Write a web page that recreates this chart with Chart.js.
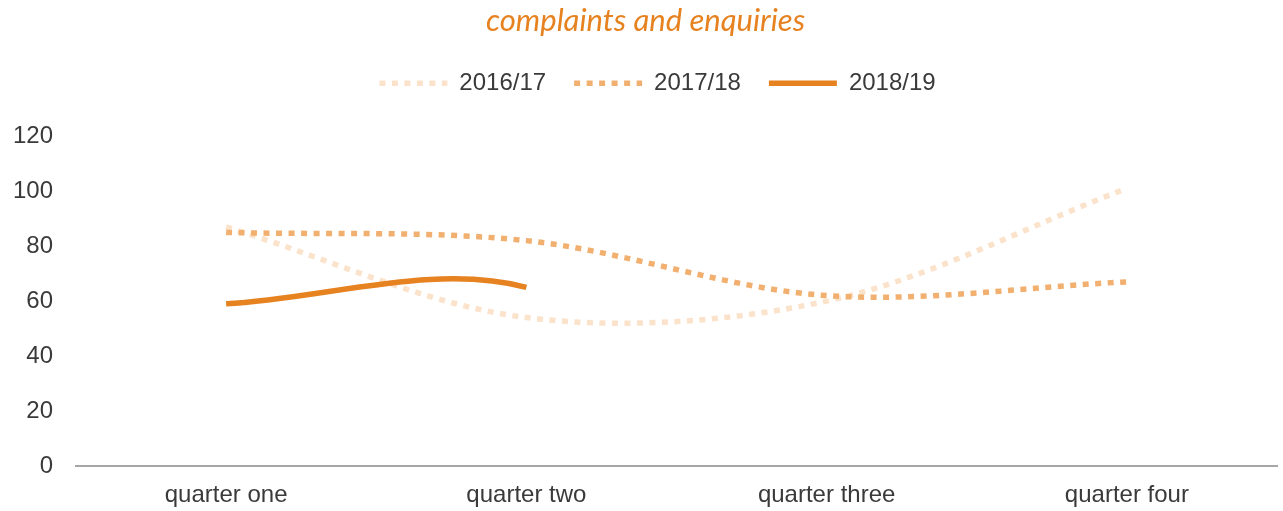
<!DOCTYPE html>
<html>
<head>
<meta charset="utf-8">
<script src="https://cdn.jsdelivr.net/npm/chart.js@4"></script>
<style>
    body { margin: 0; background: #fff; }
    #wrap { width: 1283px; height: 511px; position: relative; }
</style>
</head>
<body>
<div id="wrap"><canvas id="myChart"></canvas></div>
<script>
// data
const quarters = ['quarter one', 'quarter two', 'quarter three', 'quarter four'];
const y2016_17 = [87, 54, 60, 101];
const y2017_18 = [85, 82, 62, 67];
// quarters three and four not reported yet: blank cells, counted as 0 by the
// original smoothing (that is why the line bends down at quarter two), not drawn
const y2018_19 = [59, 65, 0, 0];
const reported_2018_19 = 2;
const y_ticks = [0, 20, 40, 60, 80, 100, 120];

const text_font = 'Liberation Sans, Arial, sans-serif';
const text_colour = '#3a3a3a';

// push the plot area down below the legend, and nudge the legend right a bit
const legendMargin = {
    id: 'legendMargin',
    beforeInit(chart) {
        const fit = chart.legend.fit;
        chart.legend.fit = function() {
            fit.bind(chart.legend)();
            this.height += 31;
        };
    },
    afterLayout(chart) {
        chart.legend.left += 12;
        chart.legend.right += 12;
    }
};

var ctx = document.getElementById('myChart').getContext('2d');
var chart = new Chart(ctx, {
    type: 'line',
    data: {
        labels: quarters,
        datasets: [
            {
            label: '2016/17',
            data: y2016_17,
            borderColor: 'rgb(251, 226, 203)',
            backgroundColor: 'rgb(251, 226, 203)',
            borderWidth: 5.5,
            borderDash: [6, 6.5],
            borderCapStyle: 'butt',
            pointRadius: 0,
            order: 3,
            },
            {
            label: '2017/18',
            data: y2017_18,
            borderColor: 'rgb(241, 176, 112)',
            backgroundColor: 'rgb(241, 176, 112)',
            borderWidth: 5.5,
            borderDash: [6, 6.5],
            borderCapStyle: 'butt',
            pointRadius: 0,
            order: 2,
            },
            {
            label: '2018/19',
            data: y2018_19,
            borderColor: 'rgb(230, 130, 32)',
            backgroundColor: 'rgb(230, 130, 32)',
            borderWidth: 5.5,
            borderCapStyle: 'butt',
            pointRadius: 0,
            order: 1,
            segment: {
                borderColor: (c) => c.p0DataIndex >= reported_2018_19 - 1 ? 'rgba(0,0,0,0)' : undefined
            },
            }
        ]
    },
    options: {
        responsive: true,
        maintainAspectRatio: false,
        animation: false,
        elements: { line: { tension: 0.33 } },
        layout: { padding: { left: 14, right: 6, top: 0, bottom: 0 } },
        plugins: {
            title: {
                display: true,
                text: 'complaints and enquiries',
                color: 'rgb(230, 130, 32)',
                font: { family: 'Lato, sans-serif', size: 31, style: 'italic', weight: 'normal' },
                padding: { top: 2, bottom: 4 }
            },
            legend: {
                display: true,
                labels: {
                    usePointStyle: true,
                    pointStyle: 'line',
                    pointStyleWidth: 68,
                    color: text_colour,
                    padding: 28,
                    font: { family: text_font, size: 24 },
                    sort: (a, b) => a.datasetIndex - b.datasetIndex,
                    generateLabels: (c) => {
                        const items = Chart.defaults.plugins.legend.labels.generateLabels(c);
                        items.forEach((item) => {
                            const ds = c.data.datasets[item.datasetIndex];
                            item.lineDash = ds.borderDash || [];
                            item.lineWidth = ds.borderWidth;
                            item.strokeStyle = ds.borderColor;
                            item.lineCap = 'butt';
                        });
                        return items;
                    }
                }
            },
            tooltip: { enabled: false }
        },
        scales: {
            x: {
                offset: true,
                grid: { display: false, drawTicks: false },
                border: { display: true, color: '#a6a6a6', width: 2 },
                afterFit: (scale) => { scale.height = 45; },
                ticks: {
                    color: text_colour,
                    padding: 15,
                    font: { family: text_font, size: 24 }
                }
            },
            y: {
                min: y_ticks[0],
                max: y_ticks[y_ticks.length - 1],
                grid: { display: false, drawTicks: false },
                border: { display: false },
                afterBuildTicks: (axis) => { axis.ticks = y_ticks.map(v => ({ value: v })); },
                afterFit: (scale) => { scale.width = 62; },
                ticks: {
                    color: text_colour,
                    padding: 23,
                    font: { family: text_font, size: 24 }
                }
            }
        }
    },
    plugins: [legendMargin]
});
</script>
</body>
</html>
